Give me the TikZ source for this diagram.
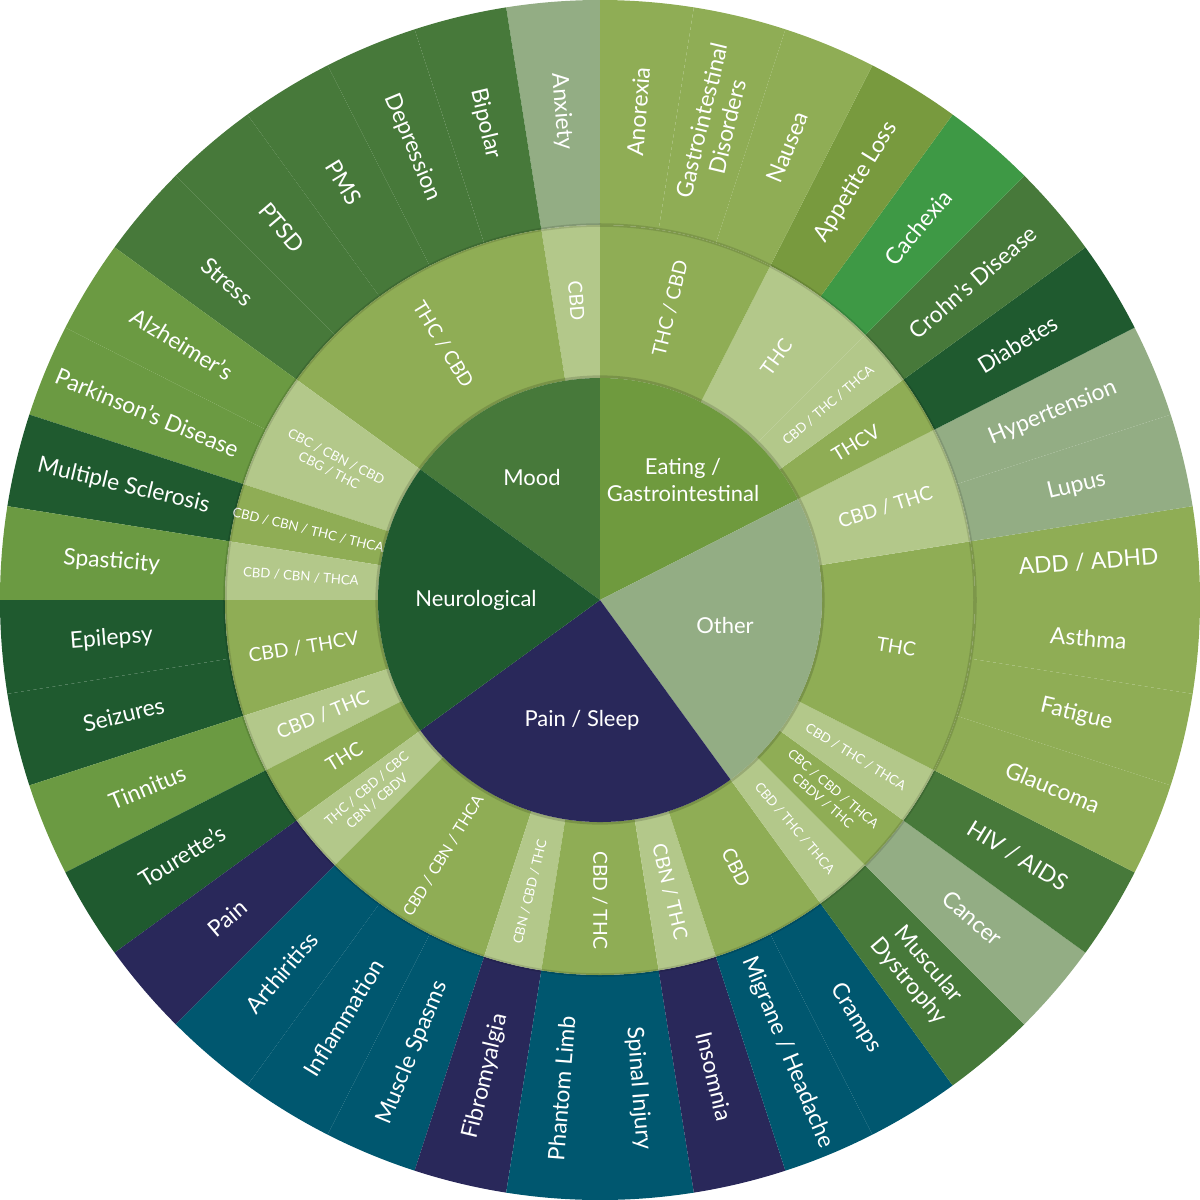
\documentclass[tikz,border=0pt]{standalone}
\usepackage{fontspec}
\setmainfont{Lato}
\definecolor{moodgreen}{HTML}{47793A}
\definecolor{darkgreen}{HTML}{1F5A2F}
\definecolor{midgreen}{HTML}{6B9A42}
\definecolor{leafgreen}{HTML}{8FAD55}
\definecolor{palegreen}{HTML}{B3C88A}
\definecolor{sage}{HTML}{93AD84}
\definecolor{olive}{HTML}{789A3E}
\definecolor{brightgreen}{HTML}{3E9945}
\definecolor{eatgreen}{HTML}{6F9A3E}
\definecolor{navy}{HTML}{29285A}
\definecolor{teal}{HTML}{00576F}
\newcommand{\ringseg}[5]{\fill[#5] (#1:#3) arc (#1:#2:#3) -- (#2:#4) arc (#2:#1:#4) -- cycle;}
\tikzset{
  outerlab/.style={text=white, font=\fontsize{13}{15}\selectfont, align=center},
  midlab/.style={text=white, font=\fontsize{11}{12}\selectfont, align=center},
  medlab/.style={text=white, font=\fontsize{9}{10}\selectfont, align=center},
  smalllab/.style={text=white, font=\fontsize{7.5}{9}\selectfont, align=center},
  innerlab/.style={text=white, font=\fontsize{12.5}{15}\selectfont, align=center}
}
\begin{document}
\begin{tikzpicture}
\useasboundingbox (-12,-11.98) rectangle (12,12);
% outer ring
\foreach \c/\col/\txt in {94.5/sage/{Anxiety}, 103.5/moodgreen/{Bipolar}, 112.5/moodgreen/{Depression},
  121.5/moodgreen/{PMS}, 130.5/moodgreen/{PTSD}, 139.5/moodgreen/{Stress},
  148.5/midgreen/{Alzheimer’s}, 157.5/midgreen/{Parkinson’s Disease}, 166.5/darkgreen/{Multiple Sclerosis},
  175.5/midgreen/{Spasticity}, 184.5/darkgreen/{Epilepsy}, 193.5/darkgreen/{Seizures},
  202.5/midgreen/{Tinnitus}, 211.5/darkgreen/{Tourette’s},
  220.5/navy/{Pain}, 229.5/teal/{Arthiritiss}, 238.5/teal/{Inflammation}, 247.5/teal/{Muscle Spasms},
  256.5/navy/{Fibromyalgia}, 265.5/teal/{Phantom Limb}, 274.5/teal/{Spinal Injury}, 283.5/navy/{Insomnia},
  292.5/teal/{Migrane / Headache}, 301.5/teal/{Cramps},
  310.5/moodgreen/{Muscular\\Dystrophy}, 319.5/sage/{Cancer}, 328.5/moodgreen/{HIV / AIDS},
  337.5/leafgreen/{Glaucoma}, 346.5/leafgreen/{Fatigue}, 355.5/leafgreen/{Asthma}, 4.5/leafgreen/{ADD / ADHD},
  13.5/sage/{Lupus}, 22.5/sage/{Hypertension},
  31.5/darkgreen/{Diabetes}, 40.5/moodgreen/{Crohn’s Disease}, 49.5/brightgreen/{Cachexia},
  58.5/olive/{Appetite Loss}, 67.5/leafgreen/{Nausea}, 76.5/leafgreen/{Gastrointestinal\\Disorders},
  85.5/leafgreen/{Anorexia}}{
  \pgfmathsetmacro\a{\c-4.5}
  \pgfmathsetmacro\b{\c+4.5}
  \pgfmathsetmacro\rot{(\c>90 && \c<270) ? \c-180 : \c}
  \ringseg{\a}{\b}{12}{7.5}{\col}
  \node[outerlab, rotate=\rot] (out-\c) at (\c:9.8) {\txt};
}
% middle ring
\foreach \a/\b/\col/\sty/\txt in {90/99/palegreen/midlab/{CBD}, 99/144/leafgreen/midlab/{THC / CBD},
  144/162/palegreen/smalllab/{CBC / CBN / CBD\\CBG / THC}, 162/171/leafgreen/smalllab/{CBD / CBN / THC / THCA},
  171/180/palegreen/smalllab/{CBD / CBN / THCA}, 180/198/leafgreen/midlab/{CBD / THCV},
  198/207/palegreen/midlab/{CBD / THC}, 207/216/leafgreen/midlab/{THC},
  216/225/palegreen/smalllab/{THC / CBD / CBC\\CBN / CBDV}, 225/252/leafgreen/medlab/{CBD / CBN / THCA},
  252/261/palegreen/smalllab/{CBN / CBD / THC}, 261/279/leafgreen/midlab/{CBD / THC},
  279/288/palegreen/midlab/{CBN / THC}, 288/306/leafgreen/midlab/{CBD},
  306/315/palegreen/smalllab/{CBD / THC / THCA}, 315/324/leafgreen/smalllab/{CBC / CBD / THCA\\CBDV / THC},
  324/333/palegreen/smalllab/{CBD / THC / THCA}, 333/369/leafgreen/midlab/{THC},
  9/27/palegreen/midlab/{CBD / THC}, 27/36/leafgreen/midlab/{THCV},
  36/45/palegreen/smalllab/{CBD / THC / THCA}, 45/63/palegreen/midlab/{THC},
  63/90/leafgreen/midlab/{THC / CBD}}{
  \pgfmathsetmacro\c{mod((\a+\b)/2,360)}
  \pgfmathsetmacro\rot{(\c>90 && \c<270) ? \c-180 : \c}
  \ringseg{\a}{\b}{7.5}{4.44}{\col}
  \node[\sty, rotate=\rot] (mid-\a) at (\c:6) {\txt};
}
% soft shadows between rings
\draw[black, opacity=0.12, line width=2pt] (0,0) circle (7.5);
\draw[black, opacity=0.15, line width=3pt] (0,0) circle (4.44);
% inner disc
\ringseg{90}{144}{4.44}{0.001}{moodgreen}
\ringseg{27}{90}{4.44}{0.001}{eatgreen}
\ringseg{-54}{27}{4.44}{0.001}{sage}
\ringseg{-144}{-54}{4.44}{0.001}{navy}
\ringseg{144}{216}{4.44}{0.001}{darkgreen}
\node[innerlab] (mood) at (-1.36,2.46) {Mood};
\node[innerlab] (eating) at (1.66,2.4) {Eating /\\Gastrointestinal};
\node[innerlab] (other) at (2.5,-0.5) {Other};
\node[innerlab] (pain) at (-0.36,-2.4) {Pain / Sleep};
\node[innerlab] (neuro) at (-2.48,0) {Neurological};
\end{tikzpicture}
\end{document}
